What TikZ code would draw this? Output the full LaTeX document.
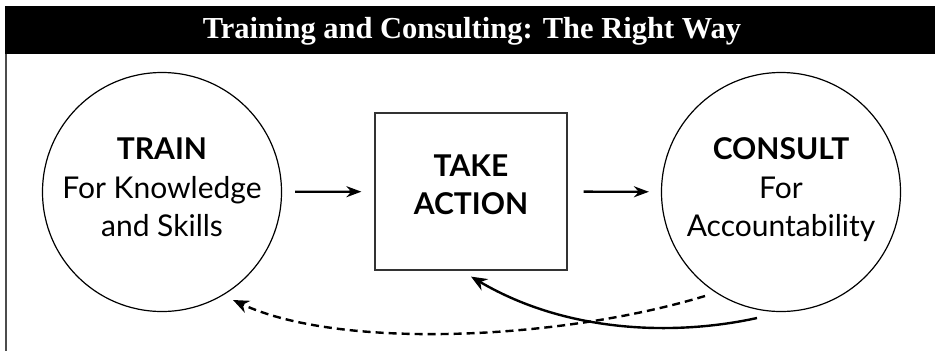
\documentclass[tikz,border=0pt]{standalone}
\usepackage{fontspec}
\setmainfont{Liberation Serif}
\setsansfont{Lato}
\usetikzlibrary{arrows.meta}
\begin{document}
\begin{tikzpicture}[x=1pt, y=-1pt,
    stage/.style={circle, draw, line width=1.2pt, minimum size=239pt, inner sep=0pt,
      align=center, text depth=9pt, font=\sffamily\fontsize{30}{38.5}\selectfont},
    actbox/.style={rectangle, draw=black!80, line width=1.2pt, minimum width=192pt,
      minimum height=157pt, inner sep=0pt, align=center, text depth=13pt,
      font=\sffamily\bfseries\fontsize{30}{38}\selectfont},
    flow/.style={-{Stealth[length=15pt, width=11pt]}, line width=2.4pt}]
  \useasboundingbox (0, 0) rectangle (935, 351);
      %%title bar
      \fill (5, 6) rectangle (935, 54);
      \node[text=white, font=\rmfamily\bfseries\fontsize{30.5}{36}\selectfont] (title) at (472, 31){Training and Consulting: The Right Way};
      \draw[black!70, line width=1.5pt] (6, 54) to (6, 351);
      %%stages
      \node[stage] (train) at (162, 192){\textbf{TRAIN}\\For Knowledge\\and Skills};
      \node[actbox] (action) at (471, 191.5){TAKE\\ACTION};
      \node[stage] (consult) at (781, 192){\textbf{CONSULT}\\For\\Accountability};
      %%forward arrows
      \draw[flow, shorten <=13pt, shorten >=13pt] (train) to (action);
      \draw[flow, shorten <=16pt, shorten >=12pt] (action) to (consult);
      %%back arrows
      \coordinate (solid start) at (757, 318);
      \coordinate (dash start) at (705, 296);
      \coordinate (dash end) at (233, 300);
      \draw[flow, -{Stealth[length=16pt, width=13pt]}] (solid start) .. controls (680, 335) and (570, 335) .. ([yshift=-6pt]action.south);
      \draw[flow, -{Stealth[length=16pt, width=13pt]}, dash pattern=on 8pt off 5pt] (dash start) .. controls (560, 340) and (340, 350) .. (dash end);
\end{tikzpicture}
\end{document}
